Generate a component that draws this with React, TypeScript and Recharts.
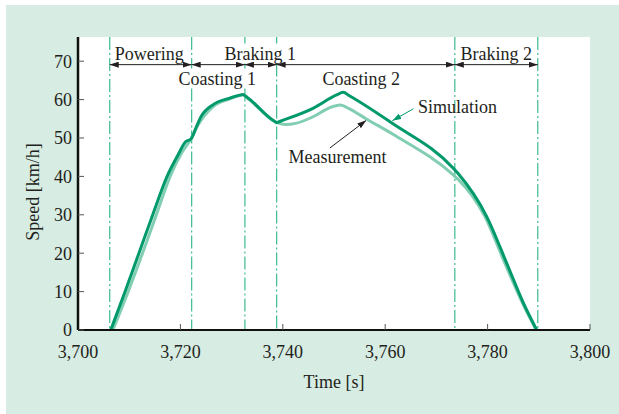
import React from "react"
import {
  LineChart,
  Line,
  XAxis,
  YAxis,
  CartesianGrid,
  ReferenceLine,
  Label,
} from "recharts"

// simulated speed trace
const simTime = [3706.4, 3709.2, 3711.9, 3714.6, 3717.4, 3719.5, 3721, 3722.1, 3723, 3724, 3726.4, 3729.7, 3731.4, 3732.2, 3733, 3738.3, 3738.8, 3739.4, 3746, 3750.5, 3751.8, 3753, 3761.3, 3773.4, 3774.2, 3779.8, 3783.7, 3787, 3789.6]
const simSpeed = [0, 10, 20, 30, 40, 45.5, 49, 49.8, 52.5, 55.5, 58.7, 60.4, 61.1, 61.3, 60.6, 54.4, 54, 54.3, 57.8, 61.2, 61.9, 61.0, 53.9, 42, 40.8, 29.6, 17.5, 7, 0]

// measured speed trace
const measTime = [3706.8, 3709.8, 3712.6, 3715.3, 3718, 3720.2, 3722, 3723.5, 3726.4, 3729.7, 3731.4, 3732.2, 3733, 3738.3, 3740.5, 3742.5, 3746, 3749, 3751.2, 3753, 3756.4, 3761.6, 3773.3, 3774.2, 3779.5, 3783.5, 3787, 3789.5]
const measSpeed = [0, 10, 20, 30, 40, 46, 49.6, 53.5, 58.2, 60.2, 61, 61.2, 60.5, 54.4, 53.5, 53.8, 55.6, 57.8, 58.6, 57.6, 54.9, 50.9, 40.4, 39.3, 29.5, 17, 6.5, 0]

// phase boundaries
const phaseBounds = [3706.2, 3722.2, 3732.6, 3738.8, 3773.6, 3789.8]
const arrowLevel = 69.1

const phaseLabels = [
  { text: "Powering", t: 3713.9, v: 72.0 },
  { text: "Braking 1", t: 3735.6, v: 72.0 },
  { text: "Braking 2", t: 3781.7, v: 72.0 },
  { text: "Coasting 1", t: 3727.2, v: 65.5 },
  { text: "Coasting 2", t: 3755.3, v: 65.5 },
]

const xTicks = [3700, 3720, 3740, 3760, 3780, 3800]
const yTicks = [0, 10, 20, 30, 40, 50, 60, 70]
const X_MIN = 3700
const X_MAX = 3800
const Y_MAX = 76.3

const simData = simTime.map((t, i) => ({ t, v: simSpeed[i] }))
const measData = measTime.map((t, i) => ({ t, v: measSpeed[i] }))

const W = 619
const H = 414
const MARGIN = { top: 37, right: 29, bottom: 24, left: 6 }
const Y_AXIS_W = 72
const PLOT_W = W - MARGIN.left - MARGIN.right - Y_AXIS_W

const FONT = "'Liberation Serif', 'DejaVu Serif', serif"
const INK = "#231f20"
const SIM = "#00996b"
const MEAS = "#82ceb2"
const GUIDE = "#3dbb92"
const CHAR_W = 8.4

// text drawn at the first point of a zero-length segment
const textShape = (text: string, anchor = "middle") => (p: any) => (
  <text x={p.x1} y={p.y1} dy="0.35em" textAnchor={anchor} fontFamily={FONT} fontSize={18} fill={INK}>
    {text}
  </text>
)

// dash-dot boundary that leaves a gap where a phase label sits on it
const boundaryShape = (t: number) => (p: any) => {
  const top = Math.min(p.y1, p.y2)
  const bottom = Math.max(p.y1, p.y2)
  const pxPerV = (bottom - top) / Y_MAX
  const pxPerT = PLOT_W / (X_MAX - X_MIN)
  const gaps = phaseLabels
    .filter((l) => Math.abs(l.t - t) * pxPerT < (l.text.length * CHAR_W) / 2 + 2)
    .map((l) => [bottom - l.v * pxPerV - 10, bottom - l.v * pxPerV + 10])
    .sort((a, b) => a[0] - b[0])
  const parts: number[][] = []
  let y = top
  gaps.forEach(([g0, g1]) => {
    if (g0 > y) parts.push([y, g0])
    y = Math.max(y, g1)
  })
  parts.push([y, bottom])
  return (
    <g>
      {parts.map(([a, b], i) => (
        <line key={i} x1={p.x1} x2={p.x1} y1={a} y2={b} stroke={GUIDE} strokeWidth={1.2} strokeDasharray="13 3 2 3" />
      ))}
    </g>
  )
}

const arrowShape = (color: string, both: boolean) => (p: any) => (
  <line
    x1={p.x1}
    y1={p.y1}
    x2={p.x2}
    y2={p.y2}
    stroke={color}
    strokeWidth={1}
    markerStart={both ? `url(#head-${color === INK ? "k" : "g"})` : undefined}
    markerEnd={`url(#head-${color === INK ? "k" : "g"})`}
  />
)

const at = (t: number, v: number) => [
  { x: t, y: v },
  { x: t, y: v },
]

export default function App() {
  return (
    <div style={{ position: "absolute", left: 0, top: 0, width: W, height: H }}>
      <svg width={0} height={0} style={{ position: "absolute" }}>
        <defs>
          <marker id="head-k" markerUnits="userSpaceOnUse" markerWidth={9} markerHeight={6} refX={9} refY={3} orient="auto-start-reverse">
            <path d="M0,0 L9,3 L0,6 Z" fill={INK} />
          </marker>
          <marker id="head-g" markerUnits="userSpaceOnUse" markerWidth={9} markerHeight={6} refX={9} refY={3} orient="auto-start-reverse">
            <path d="M0,0 L9,3 L0,6 Z" fill={SIM} />
          </marker>
        </defs>
      </svg>
      <div style={{ position: "absolute", left: 6, top: 5, width: W - 6, height: H - 5, background: "#d7ece2" }} />
      <div style={{ position: "absolute", left: 0, top: 0 }}>
        <LineChart width={W} height={H} margin={MARGIN}>
          <CartesianGrid horizontal={false} vertical={false} fill="#ffffff" />
          <XAxis
            dataKey="t"
            type="number"
            domain={[X_MIN, X_MAX]}
            ticks={xTicks}
            tickFormatter={(v) => Number(v).toLocaleString("en-US")}
            height={60}
            axisLine={{ stroke: "#111", strokeWidth: 2 }}
            tickLine={{ stroke: "#555", strokeWidth: 1 }}
            tickSize={-6}
            tickMargin={21}
            tick={{ fill: INK, fontSize: 18, fontFamily: FONT }}
          >
            <Label
              content={(p: any) => (
                <text x={p.viewBox.x + p.viewBox.width / 2} y={388} textAnchor="middle" fontFamily={FONT} fontSize={18} fill={INK}>
                  Time [s]
                </text>
              )}
            />
          </XAxis>
          <YAxis
            dataKey="v"
            type="number"
            domain={[0, Y_MAX]}
            ticks={yTicks}
            width={Y_AXIS_W}
            axisLine={{ stroke: "#111", strokeWidth: 2.5 }}
            tickLine={{ stroke: "#555", strokeWidth: 1 }}
            tickSize={-6}
            tickMargin={12}
            tick={{ fill: INK, fontSize: 18, fontFamily: FONT }}
          >
            <Label
              content={() => (
                <text x={33} y={192} transform="rotate(-90 33 192)" dy="0.35em" textAnchor="middle" fontFamily={FONT} fontSize={18} fill={INK}>
                  Speed [km/h]
                </text>
              )}
            />
          </YAxis>

          {phaseBounds.map((t) => (
            <ReferenceLine key={`b${t}`} x={t} shape={boundaryShape(t)} />
          ))}
          {phaseLabels.map((l) => (
            <ReferenceLine key={l.text} segment={at(l.t, l.v)} shape={textShape(l.text)} />
          ))}
          {phaseBounds.slice(1).map((t, i) => (
            <ReferenceLine
              key={`a${t}`}
              segment={[
                { x: phaseBounds[i], y: arrowLevel },
                { x: t, y: arrowLevel },
              ]}
              shape={arrowShape(INK, true)}
            />
          ))}

          <ReferenceLine
            segment={[
              { x: 3765.5, y: 57.6 },
              { x: 3761.4, y: 54.5 },
            ]}
            shape={arrowShape(SIM, false)}
          />
          <ReferenceLine segment={at(3766.4, 58.1)} shape={textShape("Simulation", "start")} />
          <ReferenceLine
            segment={[
              { x: 3749.2, y: 47.4 },
              { x: 3756.3, y: 54.6 },
            ]}
            shape={arrowShape(INK, false)}
          />
          <ReferenceLine segment={at(3750.7, 45.1)} shape={textShape("Measurement")} />

          <Line data={measData} dataKey="v" type="monotone" stroke={MEAS} strokeWidth={3} dot={false} isAnimationActive={false} />
          <Line data={simData} dataKey="v" type="monotone" stroke={SIM} strokeWidth={3} dot={false} isAnimationActive={false} />
        </LineChart>
      </div>
    </div>
  )
}
